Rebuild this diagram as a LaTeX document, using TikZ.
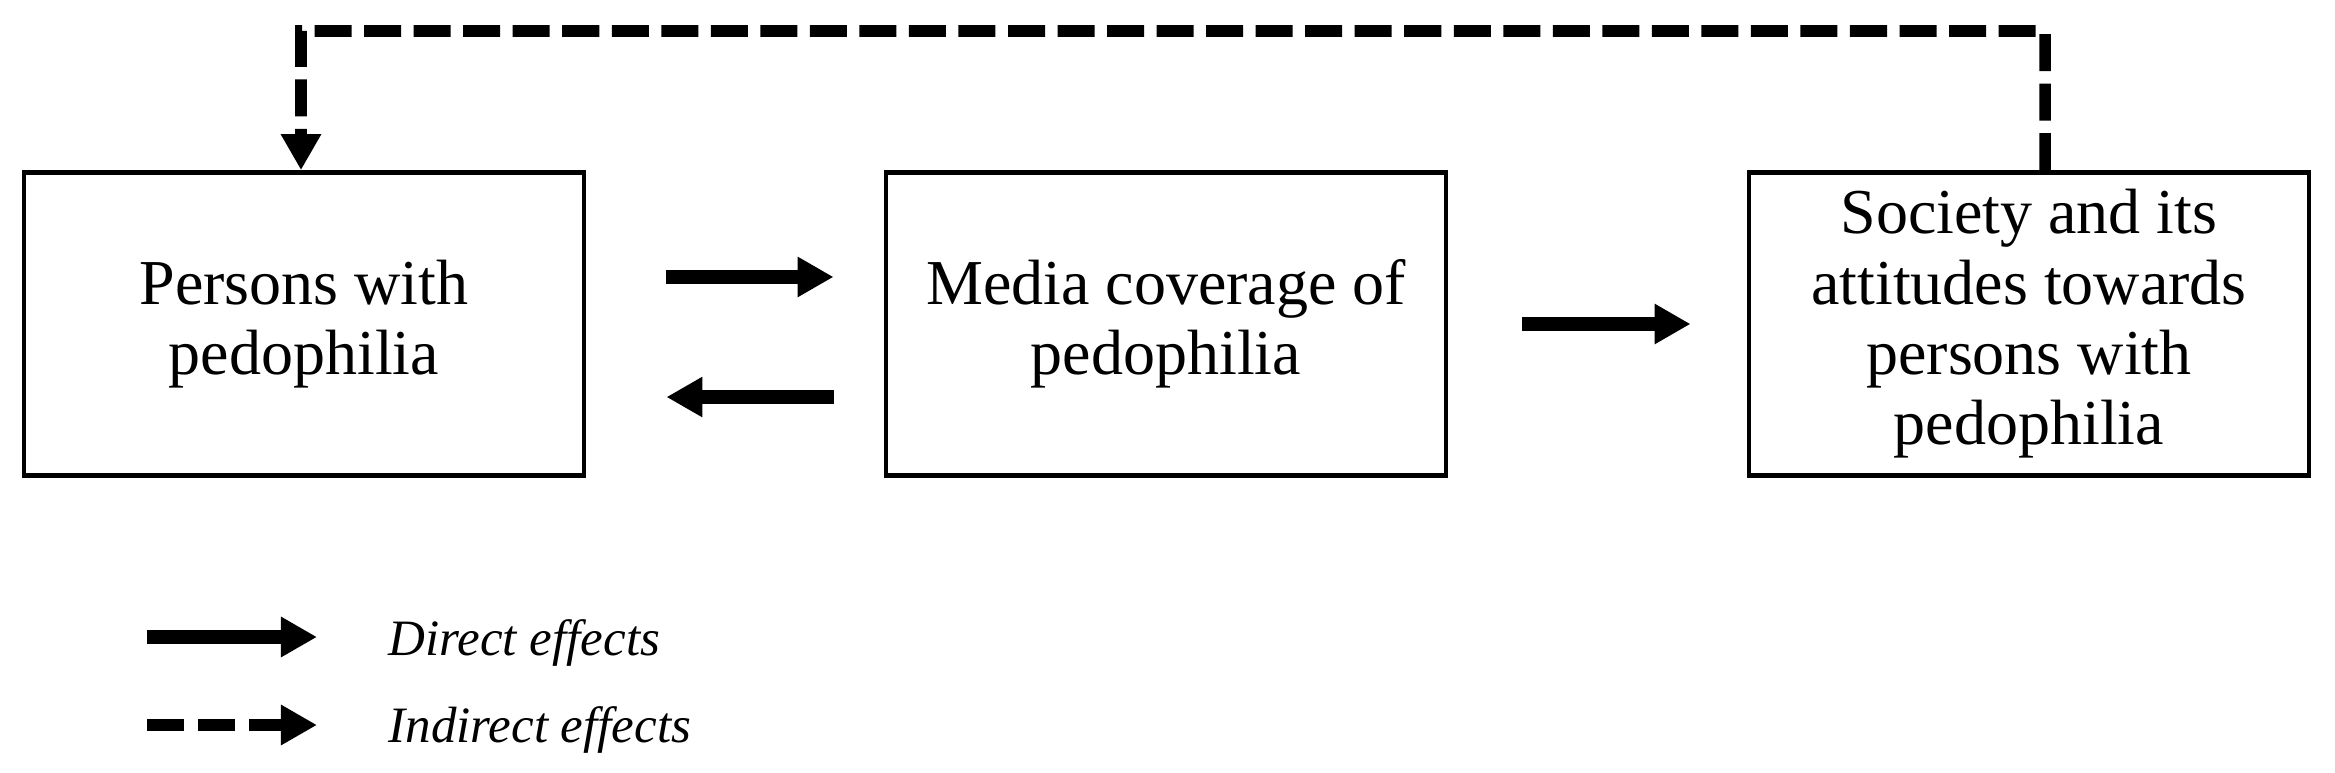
\documentclass[tikz,border=0pt]{standalone}
\usepackage{fontspec}
\setmainfont{Liberation Serif}
\usetikzlibrary{arrows.meta}
\tikzset{
  box/.style={draw, line width=0.045cm, minimum width=5.6cm, minimum height=3.03cm,
    inner sep=0pt, align=center, font=\fontsize{18.2}{20}\selectfont},
  direct/.style={line width=0.135cm, -{Triangle[length=0.36cm,width=0.38cm]}},
  indirect/.style={line width=0.115cm, dash pattern=on 0.37cm off 0.125cm,
    -{Triangle[length=0.36cm,width=0.38cm]}},
  legtext/.style={anchor=base west, inner sep=0pt, font=\fontsize{14.5}{17}\selectfont\itshape}
}
\begin{document}
\begin{tikzpicture}[x=0.01cm,y=-0.01cm]
\useasboundingbox (0,0) rectangle (2335,773);
\node[box] (left) at (304,324) {Persons with\\pedophilia};
\node[box] (mid) at (1166,324) {Media coverage of\\pedophilia};
\node[box] (right) at (2029,324) {Society and its\\attitudes towards\\persons with\\pedophilia};
% direct effects between boxes
\draw[direct, shorten <=0.8cm, shorten >=0.5cm] ([yshift=0.47cm]left.east) -- ([yshift=0.47cm]mid.west);
\draw[direct, shorten <=0.5cm, shorten >=0.8cm] ([yshift=-0.73cm]mid.west) -- ([yshift=-0.73cm]left.east);
\draw[direct, shorten <=0.74cm, shorten >=0.56cm] (mid.east) -- (right.west);
% indirect effect
\coordinate (rs) at ([xshift=0.16cm]right.north);
\coordinate (c1) at (2045,31);
\coordinate (c2) at (301,31);
\draw[indirect] (rs) -- (c1) -- (c2) -- (c2 |- left.north);
% legend
\coordinate (d1) at (147,637);
\coordinate (d2) at (317,637);
\coordinate (i1) at (147,725);
\coordinate (i2) at (317,725);
\draw[direct] (d1) -- (d2);
\draw[indirect, line width=0.12cm, dash pattern=on 0.37cm off 0.14cm] (i1) -- (i2);
\node[legtext] (dt) at (388,655) {Direct effects};
\node[legtext] (it) at (388,742) {Indirect effects};
\end{tikzpicture}
\end{document}
